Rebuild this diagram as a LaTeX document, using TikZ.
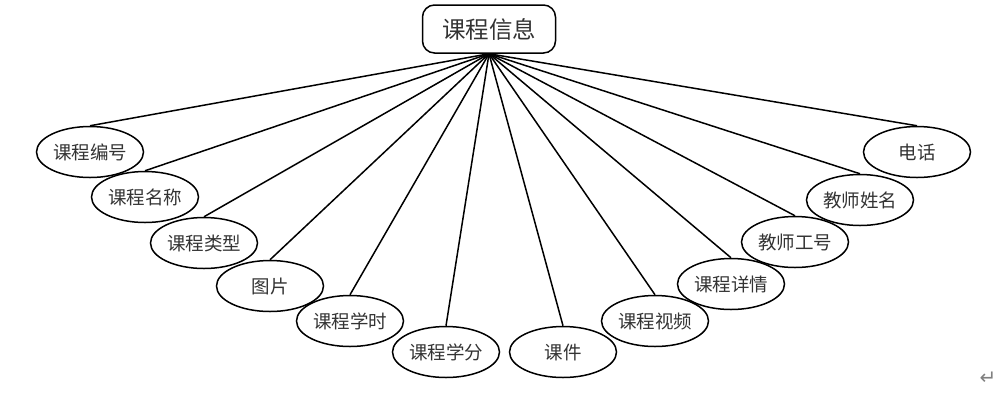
\documentclass[tikz,border=0pt]{standalone}
\usepackage{fontspec}
\setmainfont{Noto Sans CJK SC}
\newfontfamily\symfont{DejaVu Sans}
\usetikzlibrary{shapes.geometric}

\begin{document}
\begin{tikzpicture}[x=1pt,y=-1pt,
    line width=1.5pt,
    attr/.style={draw,ellipse,minimum width=107pt,minimum height=51pt,inner sep=0pt,text=black!80,font=\fontsize{18.5pt}{21pt}\selectfont},
    entity/.style={draw,rounded corners=12pt,minimum width=133pt,minimum height=48pt,inner sep=0pt,text=black!80,font=\fontsize{23.5pt}{27pt}\selectfont}]
    \useasboundingbox (0,0) rectangle (1008,392);

    % 实体
    \node[entity] (info) at (489,29) {课程信息};

    % 属性（从左到右）
    \node[attr] (bianhao) at (90,152) {课程编号};
    \node[attr] (mingcheng) at (145,197) {课程名称};
    \node[attr] (leixing) at (204,243) {课程类型};
    \node[attr] (tupian) at (270,286) {图片};
    \node[attr] (xueshi) at (350,321) {课程学时};
    \node[attr] (xuefen) at (446,352) {课程学分};
    \node[attr] (kejian) at (563,352) {课件};
    \node[attr] (shipin) at (655,321) {课程视频};
    \node[attr] (xiangqing) at (731,284) {课程详情};
    \node[attr] (gonghao) at (795,242) {教师工号};
    \node[attr] (xingming) at (860,200) {教师姓名};
    \node[attr] (dianhua) at (917,152) {电话};

    % 连线
    \draw (info.south) -- (bianhao.north);
    \draw (info.south) -- (mingcheng.north);
    \draw (info.south) -- (leixing.north);
    \draw (info.south) -- (tupian.north);
    \draw (info.south) -- (xueshi.north);
    \draw (info.south) -- (xuefen.north);
    \draw (info.south) -- (kejian.north);
    \draw (info.south) -- (shipin.north);
    \draw (info.south) -- (xiangqing.north);
    \draw (info.south) -- (gonghao.north);
    \draw (info.south) -- (xingming.north);
    \draw (info.south) -- (dianhua.north);

    % 段落标记
    \node[text=gray,font=\symfont\fontsize{20pt}{22pt}\selectfont] (mark) at (988,378) {↵};
\end{tikzpicture}
\end{document}
